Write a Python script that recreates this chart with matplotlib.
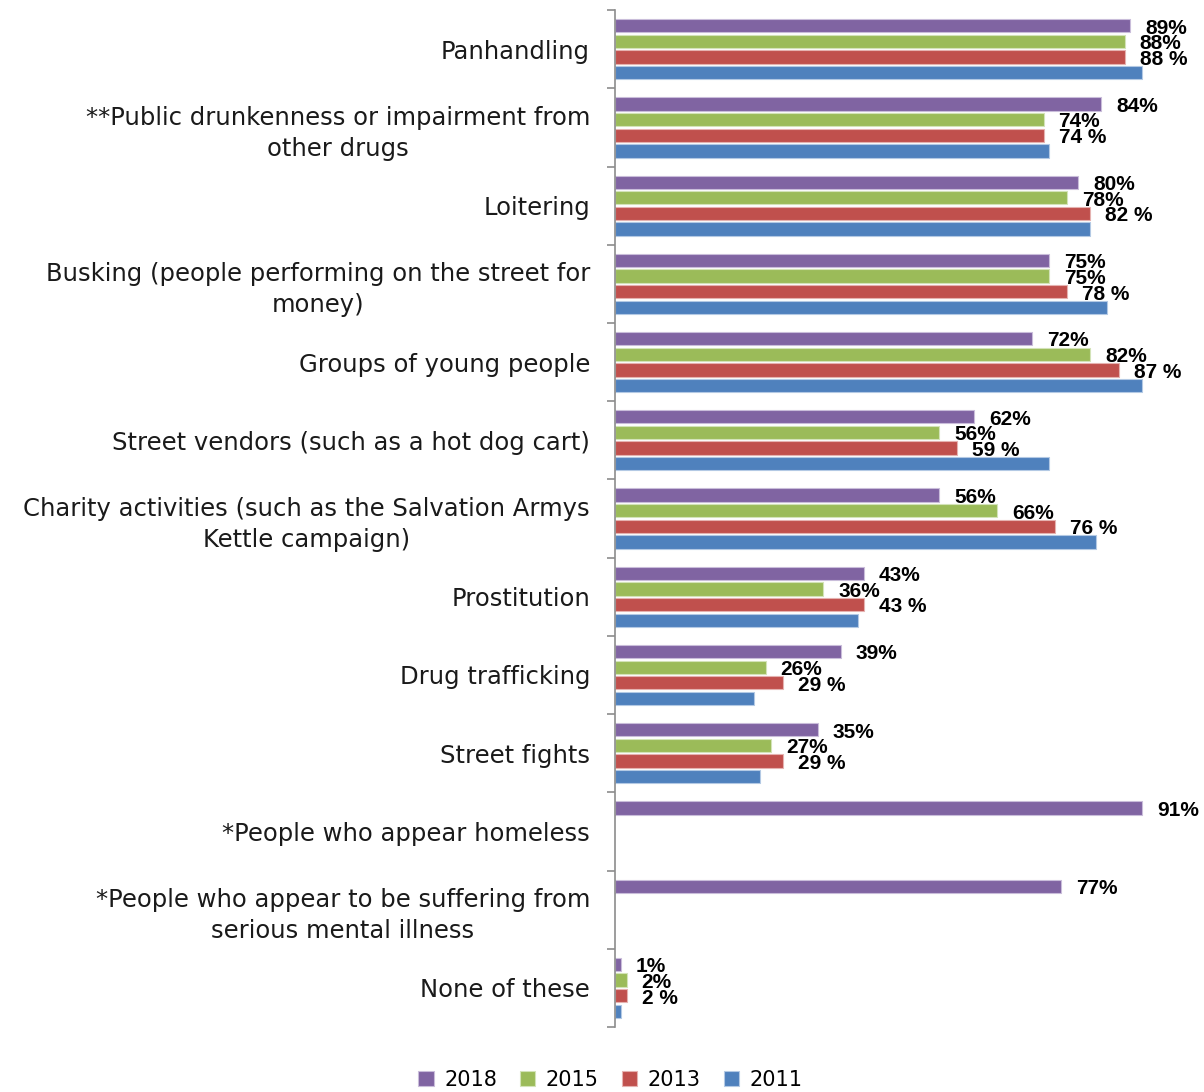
import matplotlib.pyplot as plt
import numpy as np

# categories, top to bottom
categories = [
    'Panhandling',
    '**Public drunkenness or impairment from\nother drugs',
    'Loitering',
    'Busking (people performing on the street for\nmoney)',
    'Groups of young people',
    'Street vendors (such as a hot dog cart)',
    'Charity activities (such as the Salvation Armys\nKettle campaign)',
    'Prostitution',
    'Drug trafficking',
    'Street fights',
    '*People who appear homeless',
    '*People who appear to be suffering from\nserious mental illness',
    'None of these',
]

years = ['2018', '2015', '2013', '2011']
v2018 = [89, 84, 80, 75, 72, 62, 56, 43, 39, 35, 91, 77, 1]
v2015 = [88, 74, 78, 75, 82, 56, 66, 36, 26, 27, None, None, 2]
v2013 = [88, 74, 82, 78, 87, 59, 76, 43, 29, 29, None, None, 2]
v2011 = [91, 75, 82, 85, 91, 75, 83, 42, 24, 25, None, None, 1]

colors = ['#8064A2', '#9BBB59', '#C0504D', '#4F81BD']
edges = ['#C9BDDA', '#D3E3B8', '#E5B2B0', '#B3C9E4']
label_fmt = ['{}%', '{}%', '{} %', None]

fig = plt.figure(figsize=(12.04, 10.92), dpi=100)
ax = fig.add_axes([0.5108, 0.0595, 0.481, 0.9313])

y = np.arange(len(categories))
offsets = [-0.3, -0.1, 0.1, 0.3]
series = [v2018, v2015, v2013, v2011]

for vals, off, col, ec, fmt, yr in zip(series, offsets, colors, edges, label_fmt, years):
    idx = [i for i, v in enumerate(vals) if v is not None]
    w = [vals[i] for i in idx]
    ax.barh(y[idx] + off, w, height=0.17, color=col, edgecolor=ec,
            linewidth=0.8, label=yr)
    if fmt:
        for i, v in zip(idx, w):
            ax.text(v + 2.6, y[i] + off + 0.03, fmt.format(v), ha='left', va='center',
                    fontsize=15, fontweight='bold', family='Liberation Sans',
                    color='black')

ax.set_xlim(0, 100)
ax.set_ylim(len(categories) - 0.5, -0.5)

for s in ['top', 'right', 'bottom']:
    ax.spines[s].set_visible(False)
ax.spines['left'].set_color('#8c8c8c')
ax.spines['left'].set_linewidth(1.2)
ax.set_xticks([])

ax.set_yticks(y)
ax.set_yticklabels(categories, fontsize=17.5, color='#1a1a1a',
                   multialignment='center', linespacing=1.35)
ax.tick_params(axis='y', which='major', length=0, pad=18)
ax.set_yticks(np.arange(-0.5, len(categories)), minor=True)
ax.tick_params(axis='y', which='minor', length=6, width=1.2, color='#8c8c8c',
               direction='out')

fig.legend(loc='center', bbox_to_anchor=(0.507, 0.011), ncol=4, frameon=False,
           fontsize=15, handlelength=0.75, handleheight=0.75, columnspacing=1.1,
           handletextpad=0.5)

fig.savefig('out.png', dpi=100)
